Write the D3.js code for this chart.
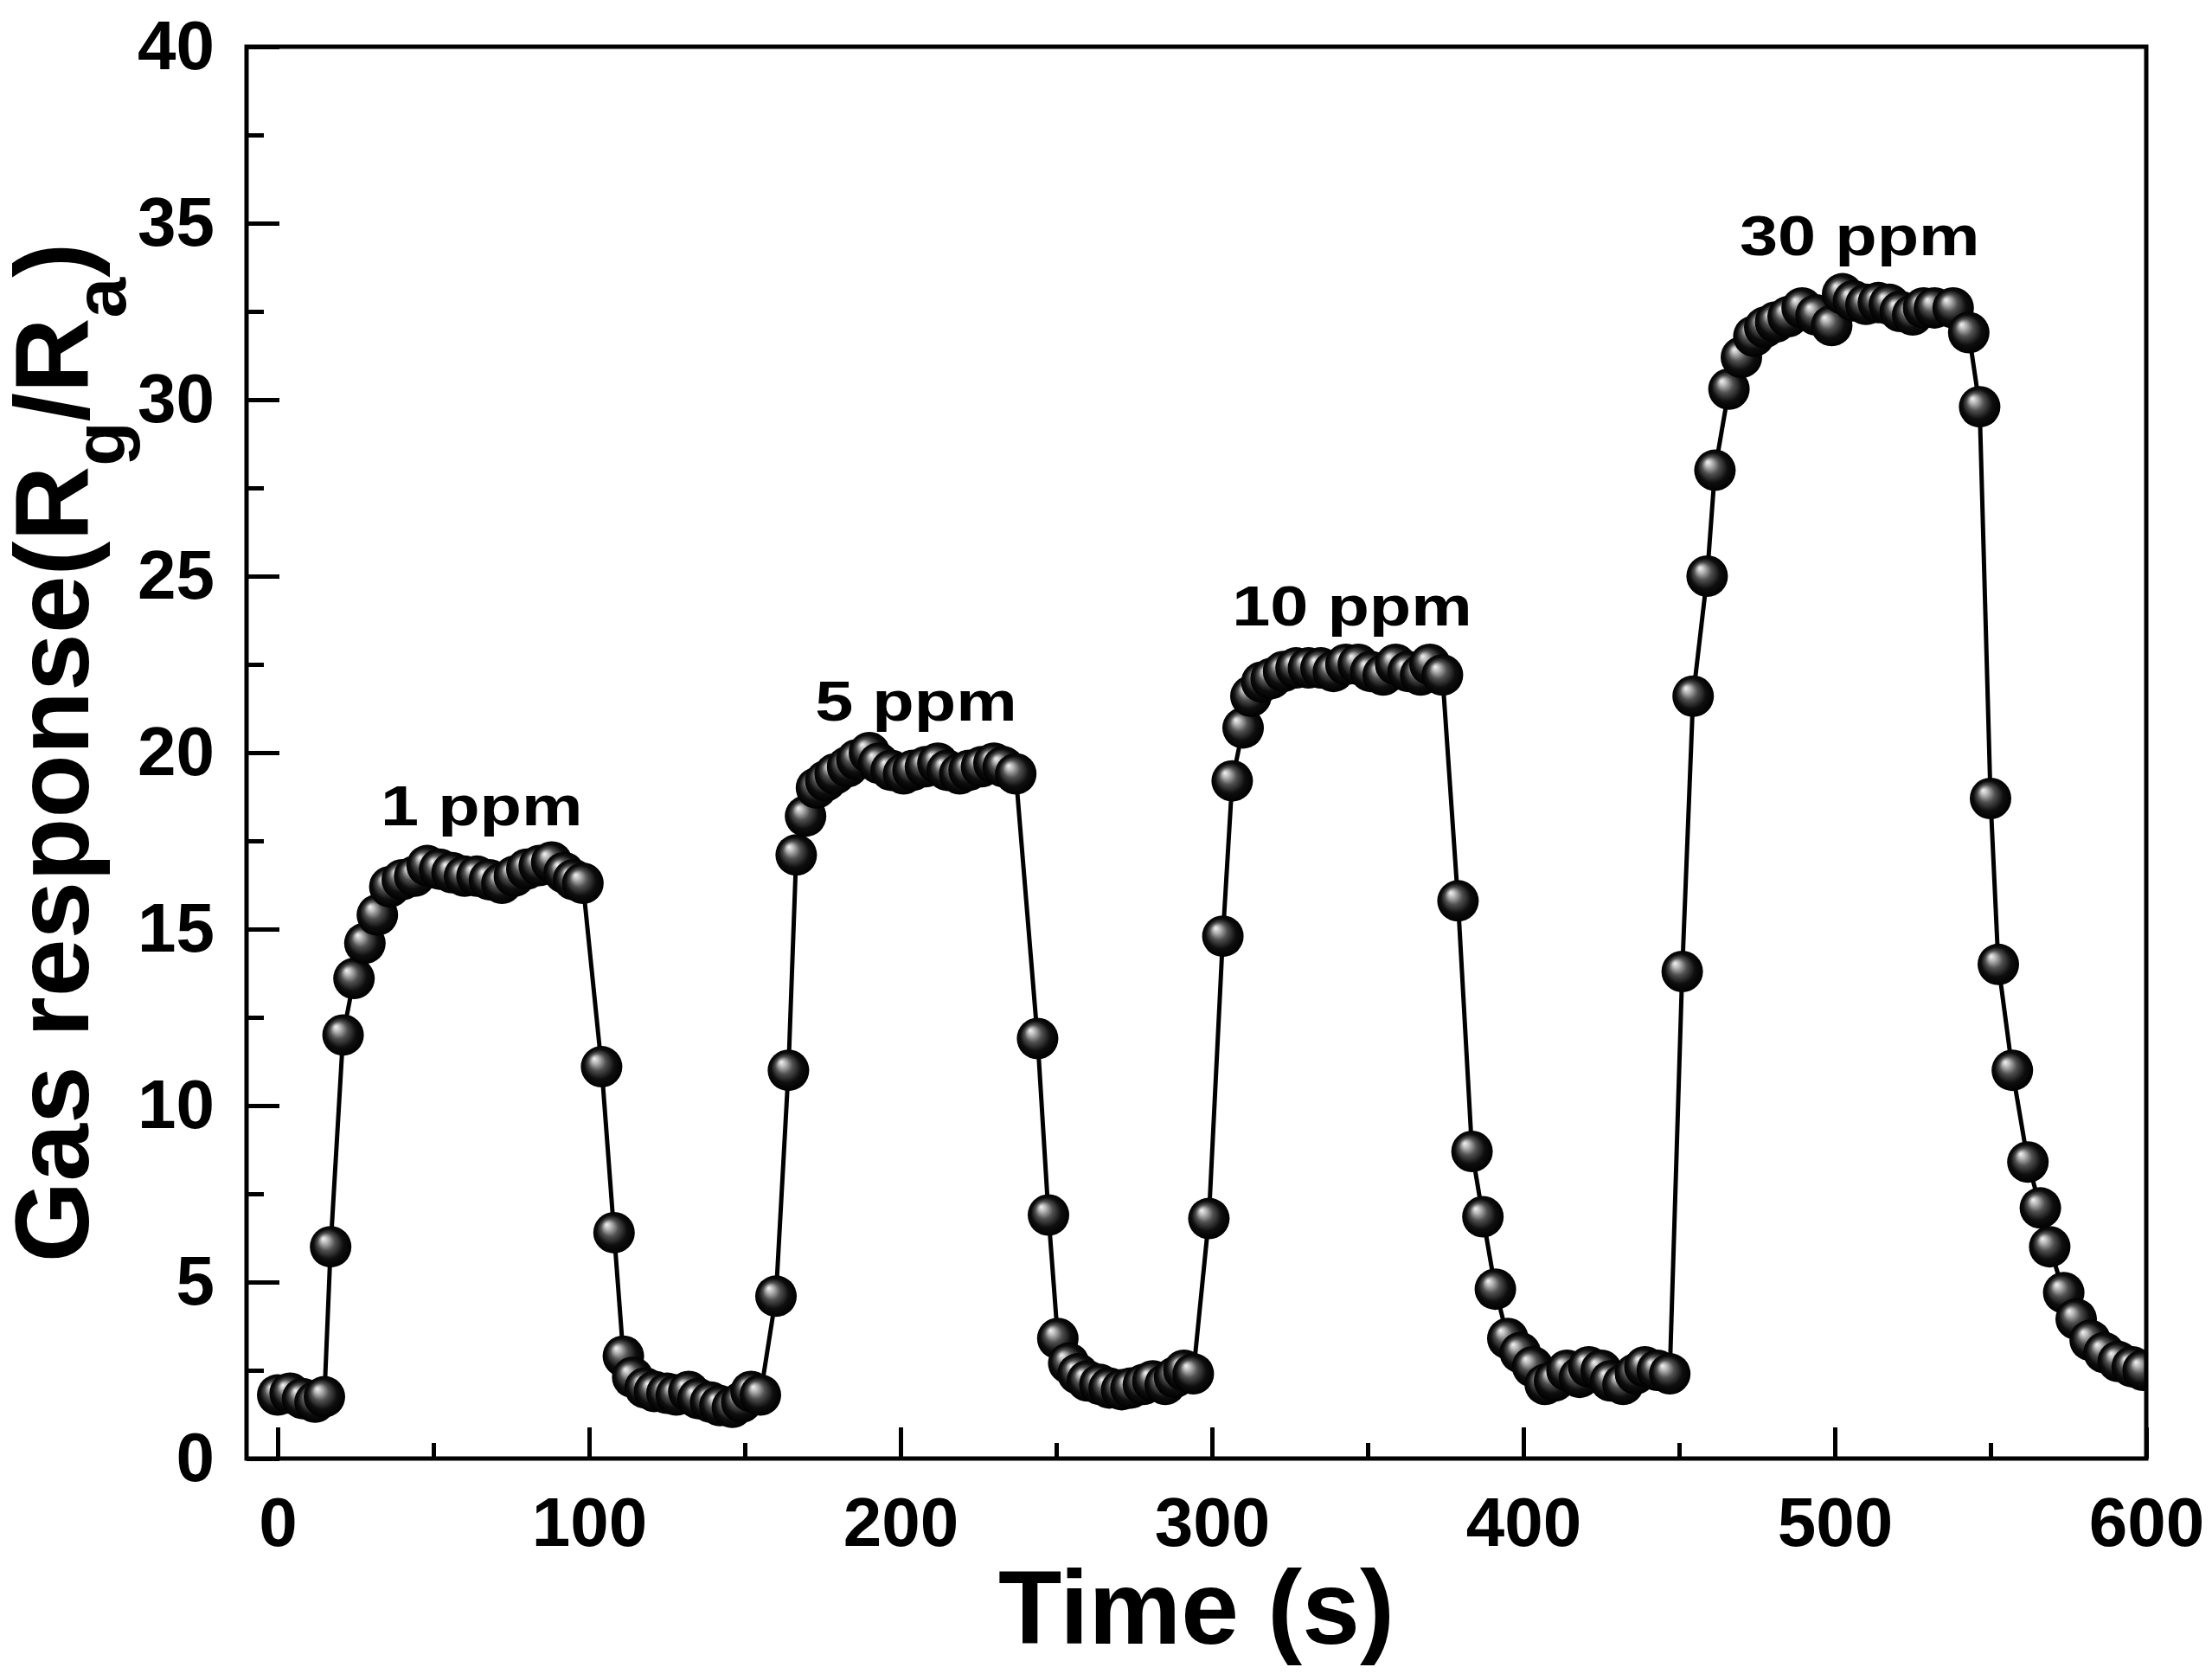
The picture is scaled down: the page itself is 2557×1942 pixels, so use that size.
<!DOCTYPE html>
<html lang="en">
<head>
<meta charset="UTF-8">
<title>Gas response</title>
<script src="https://d3js.org/d3.v7.min.js"></script>
<style>
    body { margin: 0; background: #ffffff; }
    svg { display: block; font-family: "Liberation Sans", Arial, sans-serif; font-weight: bold; }
    .tick text { font-size: 80px; font-weight: bold; fill: #000; }
    .tick line { stroke: #000; stroke-width: 5; }
</style>
</head>
<body>
<div id="chart"></div>
<script>
// Time (s) of each sample
const timeS = [
    0, 4, 8, 12, 15, 17, 21, 24.5, 28, 32, 36,
    40, 44, 48, 52, 56, 60, 64, 68, 72, 76, 80, 84, 88, 92, 95, 98,
    104, 108, 111,
    114, 118, 121, 125, 128, 132, 135, 139, 142, 146, 149, 152, 155,
    160, 164, 166.5, 169.5, 173, 176, 179, 183, 186, 190, 193, 197, 201, 204,
    208, 212, 215, 219, 222, 226, 230, 233, 237,
    244, 247.5, 250.5, 254, 257, 260, 264, 267, 271, 274, 278, 281, 285, 288, 291, 294,
    299, 303.5, 306.5, 310, 312.5, 316, 319, 323, 327, 331, 335, 339, 343, 347,
    351, 355, 359, 363, 367, 370, 374,
    379, 383.5, 387, 391, 395, 399, 403, 407, 410, 414, 418, 421, 425, 428, 432,
    436, 439, 443, 447,
    451, 454.5, 459, 461.5, 466, 470, 474, 477.5, 481, 485, 489.5, 494, 499,
    502.5, 506, 510, 514, 517.5, 521, 525, 528.5, 532, 538, 543,
    546.5, 550, 552.5, 557, 562, 566, 569, 573.5, 577.5, 582, 586.5, 591, 595.5, 599
];

// Gas response Rg/Ra at each sample
const response = [
    1.8, 1.85, 1.7, 1.6, 1.75, 6.0, 12.0, 13.6, 14.6, 15.4, 16.2,
    16.4, 16.5, 16.8, 16.7, 16.6, 16.5, 16.5, 16.4, 16.3, 16.5, 16.7, 16.8, 16.9, 16.6, 16.4, 16.3,
    11.1, 6.4, 2.9,
    2.3, 2.0, 1.9, 1.85, 1.8, 1.9, 1.7, 1.6, 1.5, 1.45, 1.6, 1.9, 1.8,
    4.6, 11.0, 17.1, 18.2, 19.0, 19.2, 19.4, 19.6, 19.8, 20.0, 19.7, 19.5, 19.4, 19.5,
    19.6, 19.7, 19.5, 19.4, 19.5, 19.6, 19.7, 19.6, 19.4,
    11.9, 6.9, 3.4, 2.7, 2.4, 2.2, 2.1, 2.0, 1.95, 2.0, 2.1, 2.2, 2.1, 2.3, 2.5, 2.4,
    6.8, 14.8, 19.2, 20.7, 21.6, 22.0, 22.1, 22.3, 22.4, 22.4, 22.4, 22.3, 22.5, 22.5,
    22.3, 22.2, 22.5, 22.3, 22.2, 22.5, 22.2,
    15.8, 8.7, 6.85, 4.8, 3.4, 3.0, 2.6, 2.1, 2.2, 2.5, 2.3, 2.6, 2.5, 2.2, 2.1,
    2.4, 2.6, 2.5, 2.4,
    13.8, 21.6, 25.0, 28.0, 30.3, 31.2, 31.8, 32.05, 32.2, 32.35, 32.6, 32.4, 32.1,
    33.0, 32.8, 32.7, 32.75, 32.7, 32.5, 32.4, 32.6, 32.6, 32.6, 31.9,
    29.8, 18.7, 14.0, 11.0, 8.4, 7.1, 6.0, 4.7, 3.95, 3.35, 3.0, 2.75, 2.6, 2.5
];

// Axis ticks
const xMajor = [0, 100, 200, 300, 400, 500, 600];
const xMinor = [50, 150, 250, 350, 450, 550];
const yMajor = [0, 5, 10, 15, 20, 25, 30, 35, 40];
const yMinor = [2.5, 7.5, 12.5, 17.5, 22.5, 27.5, 32.5, 37.5];

// Concentration labels, anchored at (time, response)
const labelText = ["1 ppm", "5 ppm", "10 ppm", "30 ppm"];
const labelTime = [65.5, 205, 345, 508];
const labelValue = [17.95, 20.9, 23.6, 34.1];

const W = 2557, H = 1942;
const plot = { left: 285, right: 2481, top: 54, bottom: 1686 };

const svg = d3.select("#chart").append("svg")
    .attr("width", W)
    .attr("height", H);

const x = d3.scaleLinear().domain([-10, 600]).range([plot.left, plot.right]);
const y = d3.scaleLinear().domain([0, 40]).range([plot.bottom, plot.top]);

const defs = svg.append("defs");

// shiny ball marker
const grad = defs.append("radialGradient")
    .attr("id", "ball")
    .attr("cx", "50%").attr("cy", "50%").attr("r", "50%")
    .attr("fx", "32%").attr("fy", "30%");
[[0, "#f4f4f4"], [0.16, "#bdbdbd"], [0.42, "#505050"], [0.72, "#0e0e0e"], [1, "#000"]]
    .forEach(s => grad.append("stop").attr("offset", s[0]).attr("stop-color", s[1]));

defs.append("clipPath").attr("id", "plotClip")
    .append("rect")
    .attr("x", plot.left).attr("y", plot.top)
    .attr("width", plot.right - plot.left)
    .attr("height", plot.bottom - plot.top);

const points = timeS.map((t, i) => ({ t: t, v: response[i] }));

const g = svg.append("g").attr("clip-path", "url(#plotClip)");

g.append("path")
    .datum(points)
    .attr("fill", "none")
    .attr("stroke", "#000")
    .attr("stroke-width", 5)
    .attr("d", d3.line().x(d => x(d.t)).y(d => y(d.v)));

g.selectAll("circle")
    .data(points)
    .enter()
    .append("circle")
    .attr("cx", d => x(d.t))
    .attr("cy", d => y(d.v))
    .attr("r", 24)
    .attr("fill", "url(#ball)");

// Axes: ticks point inward, frame is drawn separately
svg.append("g")
    .attr("transform", `translate(0,${plot.bottom})`)
    .call(d3.axisBottom(x).tickValues(xMajor).tickSizeInner(-36).tickSizeOuter(0).tickPadding(44))
    .call(a => a.select(".domain").remove());

svg.append("g")
    .attr("transform", `translate(0,${plot.bottom})`)
    .call(d3.axisBottom(x).tickValues(xMinor).tickSizeInner(-18).tickSizeOuter(0).tickFormat(""))
    .call(a => a.select(".domain").remove());

svg.append("g")
    .attr("transform", `translate(${plot.left},0)`)
    .call(d3.axisLeft(y).tickValues(yMajor).tickSizeInner(-38).tickSizeOuter(0).tickPadding(37))
    .call(a => a.select(".domain").remove());

svg.append("g")
    .attr("transform", `translate(${plot.left},0)`)
    .call(d3.axisLeft(y).tickValues(yMinor).tickSizeInner(-20).tickSizeOuter(0).tickFormat(""))
    .call(a => a.select(".domain").remove());

svg.selectAll(".tick text").attr("font-family", null).attr("font-size", null);

// frame
svg.append("rect")
    .attr("x", plot.left).attr("y", plot.top)
    .attr("width", plot.right - plot.left)
    .attr("height", plot.bottom - plot.top)
    .attr("fill", "none")
    .attr("stroke", "#000")
    .attr("stroke-width", 5);

// concentration labels (slightly wide lettering in the original)
labelText.forEach((txt, i) => {
    svg.append("text")
        .attr("transform", `translate(${x(labelTime[i])},${y(labelValue[i])}) scale(1.22,1)`)
        .attr("text-anchor", "middle")
        .style("font-size", "65px")
        .text(txt);
});

// axis titles
svg.append("text")
    .attr("x", (plot.left + plot.right) / 2)
    .attr("y", 1900)
    .attr("text-anchor", "middle")
    .style("font-size", "120px")
    .text("Time (s)");

const yt = svg.append("text")
    .attr("transform", `translate(102,${(plot.top + plot.bottom) / 2}) rotate(-90)`)
    .attr("text-anchor", "middle")
    .style("font-size", "120px");
yt.append("tspan").text("Gas response(R");
yt.append("tspan").attr("dy", 43).style("font-size", "84px").text("g");
yt.append("tspan").attr("dy", -43).text("/R");
yt.append("tspan").attr("dy", 43).style("font-size", "84px").text("a");
yt.append("tspan").attr("dy", -43).text(")");
</script>
</body>
</html>
